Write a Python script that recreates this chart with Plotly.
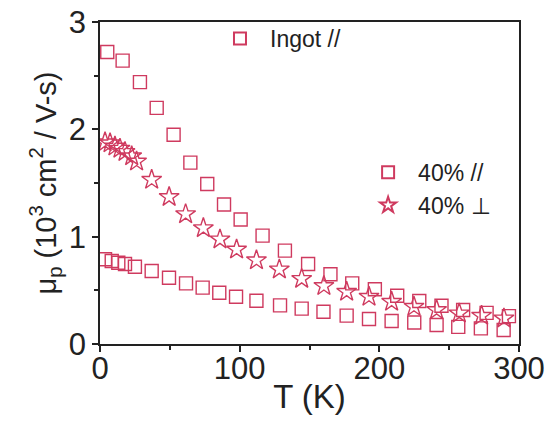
import plotly.graph_objects as go

# Ingot // (squares)
T_ingot = [5.2, 16.2, 28.6, 40.6, 52.7, 64.7, 76.8, 88.8, 100.7, 116.4, 132.4, 149, 165, 180.6, 196.8, 212.8, 228.6, 244.5, 260, 276.8, 292.8]
mu_ingot = [2.72, 2.64, 2.44, 2.20, 1.95, 1.69, 1.49, 1.30, 1.16, 1.01, 0.87, 0.745, 0.65, 0.565, 0.51, 0.45, 0.40, 0.357, 0.317, 0.29, 0.26]

# 40% // (squares)
T_par = [3.6, 8.4, 13.1, 17.9, 25, 37, 49.4, 61.6, 73.5, 85.4, 97.4, 112, 128.9, 144.4, 160, 176.6, 192.6, 208.8, 225, 241, 256.5, 272.7, 289]
mu_par = [0.789, 0.773, 0.757, 0.745, 0.72, 0.68, 0.617, 0.565, 0.525, 0.478, 0.44, 0.403, 0.36, 0.33, 0.30, 0.264, 0.233, 0.214, 0.20, 0.177, 0.16, 0.146, 0.13]

# 40% ⊥ (stars)
T_perp = [3.6, 7.2, 10.7, 14.3, 17.9, 22.7, 26.2, 37, 49.5, 61.3, 74, 85.9, 97.8, 112, 128.4, 144.4, 160.3, 176.6, 192.6, 208.8, 224.8, 241, 257.2, 273.2, 289.2]
mu_perp = [1.88, 1.87, 1.84, 1.82, 1.79, 1.75, 1.70, 1.53, 1.37, 1.21, 1.08, 0.975, 0.88, 0.78, 0.695, 0.607, 0.54, 0.487, 0.44, 0.394, 0.347, 0.317, 0.285, 0.263, 0.239]

x_ticks = [0, 100, 200, 300]
y_ticks = [0, 1, 2, 3]

col = "#cf3a5f"
fig = go.Figure()
fig.add_trace(go.Scatter(x=T_ingot, y=mu_ingot, mode="markers", name="Ingot //",
                         marker=dict(symbol="square-open", size=13, color=col, line=dict(width=1.4, color=col)),
                         legend="legend"))
fig.add_trace(go.Scatter(x=T_par, y=mu_par, mode="markers", name="40% //",
                         marker=dict(symbol="square-open", size=13, color=col, line=dict(width=1.4, color=col)),
                         legend="legend2"))
fig.add_trace(go.Scatter(x=T_perp, y=mu_perp, mode="markers", name="40% ⊥",
                         marker=dict(symbol="star-open", size=15, color=col, line=dict(width=1.4, color=col)),
                         legend="legend2"))

lgfont = dict(family="Liberation Sans, Arial", size=23, color="#222")
axfont = dict(family="Liberation Sans, Arial", size=31, color="#222")
fig.update_layout(
    width=550, height=426,
    margin=dict(l=100, r=31, t=22, b=82),
    paper_bgcolor="white", plot_bgcolor="white",
    showlegend=True,
    legend=dict(x=0.2625, y=1.0155, xanchor="left", yanchor="top", bgcolor="rgba(0,0,0,0)",
                itemsizing="constant", itemwidth=50, font=lgfont),
    legend2=dict(x=0.616, y=0.60, xanchor="left", yanchor="top", bgcolor="rgba(0,0,0,0)",
                 itemsizing="constant", itemwidth=50, font=lgfont, tracegroupgap=0),
    xaxis=dict(range=[0, 300], tickvals=x_ticks, ticktext=[str(v) for v in x_ticks], automargin=False,
               ticks="outside", ticklen=6, tickwidth=1.5, tickcolor="#222", ticklabelstandoff=-10,
               minor=dict(dtick=50, ticks="outside", ticklen=4, tickwidth=1.5, tickcolor="#222"),
               showline=True, linecolor="#222", linewidth=1.5, mirror=True, showgrid=False, zeroline=False,
               tickfont=axfont,
               title=dict(text="T (K)", font=dict(family="Liberation Sans, Arial", size=33, color="#222"), standoff=0)),
    yaxis=dict(range=[0, 3], tickvals=y_ticks, ticktext=[str(v) for v in y_ticks], automargin=False,
               ticks="outside", ticklen=6, tickwidth=1.5, tickcolor="#222",
               minor=dict(dtick=0.5, ticks="outside", ticklen=4, tickwidth=1.5, tickcolor="#222"),
               showline=True, linecolor="#222", linewidth=1.5, mirror=True, showgrid=False, zeroline=False,
               tickfont=axfont,
               title=dict(text="μ<sub>p</sub> (10<sup>3</sup> cm<sup>2</sup> / V-s)",
                          font=dict(family="Liberation Sans, Arial", size=29, color="#222"), standoff=4)),
)
fig.write_html("out.html")
